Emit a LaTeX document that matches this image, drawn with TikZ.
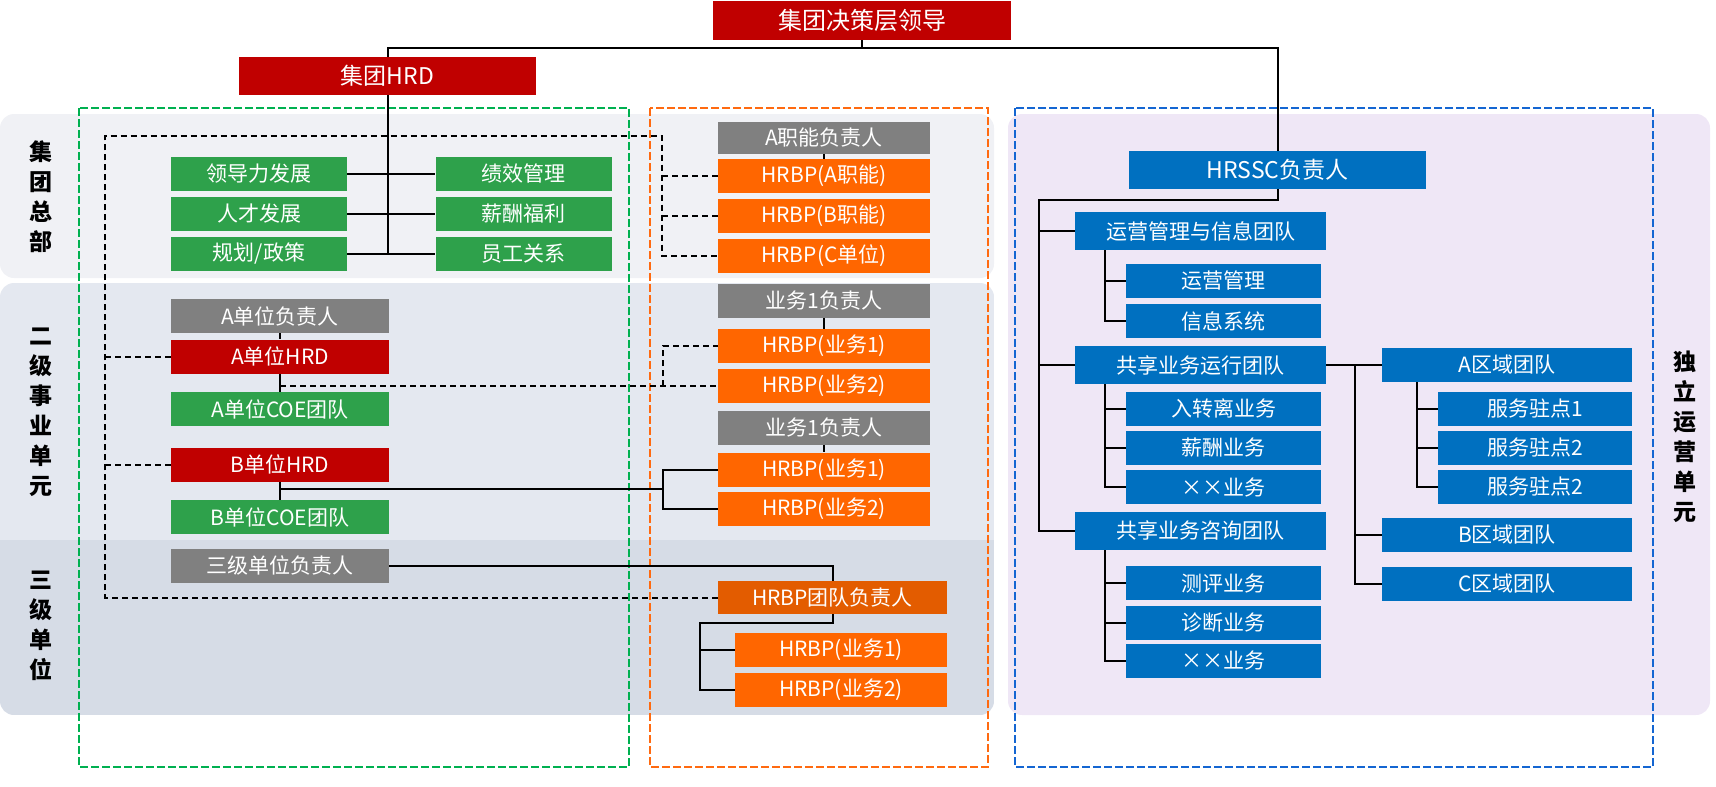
\documentclass[tikz,border=0pt]{standalone}
\usepackage{fontspec}
\setmainfont{Noto Sans CJK SC}
\usepackage{tikz}

\definecolor{hrred}{HTML}{C00000}
\definecolor{hrgreen}{HTML}{2EA14B}
\definecolor{hrgray}{HTML}{808080}
\definecolor{hrorange}{HTML}{FF6600}
\definecolor{hrdeep}{HTML}{E35C00}
\definecolor{hrblue}{HTML}{0070C0}
\definecolor{bandone}{HTML}{F0F1F5}
\definecolor{bandtwo}{HTML}{E4E8F0}
\definecolor{bandthree}{HTML}{D6DCE6}
\definecolor{bandfour}{HTML}{EFE7F6}
\definecolor{framegreen}{HTML}{00B050}
\definecolor{frameorange}{HTML}{FF6A10}
\definecolor{frameblue}{HTML}{1466D2}

\tikzset{
  box/.style={rectangle, inner sep=0pt, text=white, font=\fontsize{21}{23}\selectfont, minimum height=34pt, minimum width=212pt},
  redbox/.style={box, fill=hrred},
  greenbox/.style={box, fill=hrgreen},
  graybox/.style={box, fill=hrgray},
  orangebox/.style={box, fill=hrorange},
  deepbox/.style={box, fill=hrdeep},
  bluebox/.style={box, fill=hrblue},
  hqbox/.style={greenbox, minimum width=176pt},
  teambox/.style={bluebox, minimum width=251pt, minimum height=38pt},
  subbox/.style={bluebox, minimum width=195pt},
  areabox/.style={bluebox, minimum width=250pt},
  headbox/.style={minimum width=297pt, minimum height=38pt, font=\fontsize{23}{25}\selectfont},
  conn/.style={line width=2pt, black},
  dconn/.style={line width=2pt, black, dash pattern=on 6pt off 4pt},
  frame/.style={line width=2.2pt, dash pattern=on 8pt off 3pt},
  side/.style={font=\bfseries\fontsize{23}{30}\selectfont, align=center, text width=24pt, inner sep=0pt}
}

\begin{document}
\begin{tikzpicture}[x=1pt, y=-1pt]
\useasboundingbox (0,0) rectangle (1716,787);

% Backgrounds
\fill[bandone, rounded corners=14pt] (0,114) rectangle (994,278);
\begin{scope}
  \clip[rounded corners=14pt] (0,283) rectangle (994,715);
  \fill[bandtwo] (0,283) rectangle (994,540);
  \fill[bandthree] (0,540) rectangle (994,715);
\end{scope}
\fill[bandfour, rounded corners=14pt] (1008,114) rectangle (1710,715);

% Dashed frames
\draw[frame, framegreen] (79,108) rectangle (629,767);
\draw[frame, frameorange] (650,108) rectangle (988,767);
\draw[frame, frameblue] (1015,108) rectangle (1653,767);

% Side labels
\node[side] (labhq) at (41,197) {集\\团\\总\\部};
\node[side] (labbu) at (41,412) {二\\级\\事\\业\\单\\元};
\node[side] (labtu) at (41,626) {三\\级\\单\\位};
\node[side] (labss) at (1685,437) {独\\立\\运\\营\\单\\元};

% Define boxes
\node[redbox, minimum width=298pt, minimum height=39pt, font=\fontsize{24}{26}\selectfont] (lead) at (862,20.5) {集团决策层领导};
\node[redbox, headbox] (ghrd) at (387.5,76) {集团HRD};

\node[hqbox] (lg1) at (259,174) {领导力发展};
\node[hqbox] (lg2) at (259,214) {人才发展};
\node[hqbox] (lg3) at (259,253.5) {规划/政策};
\node[hqbox] (rg1) at (523.5,174) {绩效管理};
\node[hqbox] (rg2) at (523.5,214) {薪酬福利};
\node[hqbox] (rg3) at (523.5,253.5) {员工关系};

\node[graybox, minimum height=32pt] (afzr) at (824,138) {A职能负责人};
\node[orangebox] (hrbpa) at (824,176) {HRBP(A职能)};
\node[orangebox] (hrbpb) at (824,215.5) {HRBP(B职能)};
\node[orangebox] (hrbpc) at (824,255.5) {HRBP(C单位)};

\node[graybox, minimum width=218pt] (adw) at (280,316) {A单位负责人};
\node[redbox, minimum width=218pt] (ahrd) at (280,356.5) {A单位HRD};
\node[greenbox, minimum width=218pt] (acoe) at (280,409) {A单位COE团队};
\node[redbox, minimum width=218pt] (bhrd) at (280,464.5) {B单位HRD};
\node[greenbox, minimum width=218pt] (bcoe) at (280,517) {B单位COE团队};
\node[graybox, minimum width=218pt] (sjdw) at (280,565.5) {三级单位负责人};

\node[graybox] (yw1a) at (824,301) {业务1负责人};
\node[orangebox] (hrbp1a) at (824,346) {HRBP(业务1)};
\node[orangebox] (hrbp2a) at (824,386) {HRBP(业务2)};
\node[graybox] (yw1b) at (824,428) {业务1负责人};
\node[orangebox] (hrbp1b) at (824,469.5) {HRBP(业务1)};
\node[orangebox] (hrbp2b) at (824,509) {HRBP(业务2)};
\node[deepbox, minimum width=229pt, minimum height=33pt] (hrbpteam) at (832.5,597.5) {HRBP团队负责人};
\node[orangebox] (hrbp1c) at (841,650) {HRBP(业务1)};
\node[orangebox] (hrbp2c) at (841,690) {HRBP(业务2)};

\node[bluebox, headbox] (hrssc) at (1277.5,170) {HRSSC负责人};
\node[teambox] (yytd) at (1200.5,231) {运营管理与信息团队};
\node[subbox] (yygl) at (1223.5,281) {运营管理};
\node[subbox] (xxxt) at (1223.5,321) {信息系统};
\node[teambox] (yxtd) at (1200.5,365) {共享业务运行团队};
\node[subbox] (rzl) at (1223.5,408.5) {入转离业务};
\node[subbox] (xcyw) at (1223.5,448) {薪酬业务};
\node[subbox] (xxyw1) at (1223.5,487) {××业务};
\node[teambox] (zxtd) at (1200.5,531) {共享业务咨询团队};
\node[subbox] (cpyw) at (1223.5,583) {测评业务};
\node[subbox] (zdyw) at (1223.5,622.5) {诊断业务};
\node[subbox] (xxyw2) at (1223.5,660.5) {××业务};
\node[areabox] (aqy) at (1507,365) {A区域团队};
\node[subbox, minimum width=194pt] (fw1) at (1535,408.5) {服务驻点1};
\node[subbox, minimum width=194pt] (fw2) at (1535,448) {服务驻点2};
\node[subbox, minimum width=194pt] (fw3) at (1535,487) {服务驻点2};
\node[areabox] (bqy) at (1507,535) {B区域团队};
\node[areabox] (cqy) at (1507,584) {C区域团队};

% Junction points
\coordinate (dl) at (105,136);
\coordinate (dr) at (662,136);
\coordinate (aj) at (663,386);
\coordinate (bj) at (663,489);
\coordinate (tj) at (700,623);
\coordinate (sj) at (1039,200);
\coordinate (rj) at (1355,365);

% Draw lines
\draw[conn] (lead.south) -- ++(0,8) -| (ghrd.north);
\draw[conn] (lead.south) -- ++(0,8) -| (hrssc.north);
\draw[conn] (ghrd.south) -- (ghrd.south |- lg3.east);
\foreach \k in {1,2,3}
  \draw[conn] (lg\k.east) -- (rg\k.west);

\draw[dconn] (hrbpteam.west) -| (dl) -| (hrbpc.west -| dr) -- (hrbpc.west);
\draw[dconn] (ahrd.west) -- (ahrd.west -| dl);
\draw[dconn] (bhrd.west) -- (bhrd.west -| dl);
\draw[dconn] (hrbpa.west) -- (hrbpa.west -| dr);
\draw[dconn] (hrbpb.west) -- (hrbpb.west -| dr);

\draw[conn] (afzr) -- (hrbpa);
\draw[conn] (adw) -- (ahrd);
\draw[conn] (ahrd) -- (acoe);
\draw[dconn] (ahrd.south |- aj) -- (hrbp2a.west);
\draw[dconn] (aj) |- (hrbp1a.west);
\draw[conn] (yw1a) -- (hrbp1a);

\draw[conn] (bhrd) -- (bcoe);
\draw[conn] (bhrd.south |- bj) -- (bj);
\draw[conn] (hrbp1b.west) -| (bj) |- (hrbp2b.west);
\draw[conn] (yw1b) -- (hrbp1b);

\draw[conn] (sjdw.east) -| (hrbpteam.north);
\draw[conn] (hrbpteam.south) |- (tj) |- (hrbp2c.west);
\draw[conn] (tj |- hrbp1c.west) -- (hrbp1c.west);

\draw[conn] (hrssc.south) |- (sj) |- (zxtd.west);
\draw[conn] (sj |- yytd.west) -- (yytd.west);
\draw[conn] (sj |- yxtd.west) -- (yxtd.west);
\foreach \k in {yygl,xxxt}
  \draw[conn] ([xshift=30pt]yytd.south west) |- (\k.west);
\foreach \k in {rzl,xcyw,xxyw1}
  \draw[conn] ([xshift=30pt]yxtd.south west) |- (\k.west);
\foreach \k in {cpyw,zdyw,xxyw2}
  \draw[conn] ([xshift=30pt]zxtd.south west) |- (\k.west);
\draw[conn] (yxtd.east) -- (aqy.west);
\draw[conn] (rj) |- (bqy.west);
\draw[conn] (rj) |- (cqy.west);
\foreach \k in {fw1,fw2,fw3}
  \draw[conn] ([xshift=35pt]aqy.south west) |- (\k.west);

\end{tikzpicture}
\end{document}
